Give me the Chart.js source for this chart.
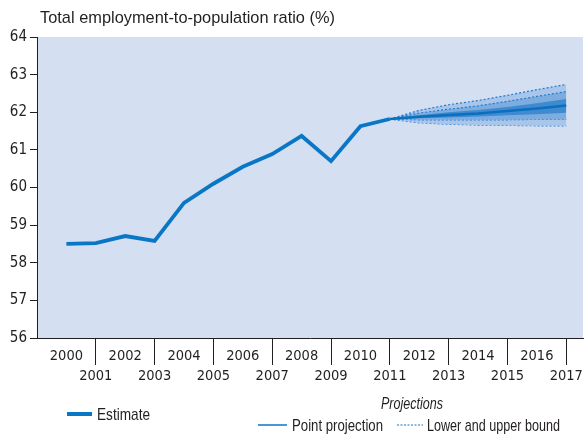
<!DOCTYPE html>
<html>
<head>
<meta charset="utf-8">
<script src="https://cdn.jsdelivr.net/npm/chart.js@4/dist/chart.umd.min.js"></script>
<style>
  html, body { margin: 0; padding: 0; background: #fff; }
  #wrap { width: 586px; height: 436px; position: relative; }
</style>
</head>
<body>
<div id="wrap"><canvas id="chart" width="586" height="436"></canvas></div>
<script>
// values
const years = [2000,2001,2002,2003,2004,2005,2006,2007,2008,2009,2010,2011,2012,2013,2014,2015,2016,2017];
const estYears = [2000,2001,2002,2003,2004,2005,2006,2007,2008,2009,2010,2011];
const estimate = [58.50,58.52,58.71,58.58,59.59,60.10,60.55,60.89,61.37,60.70,61.63,61.82];
const projYears = [2011,2012,2013,2014,2015,2016,2017];
const pointProj  = [61.82,61.88,61.93,61.97,62.03,62.10,62.18];
const darkUpper  = [61.82,61.92,62.00,62.06,62.14,62.24,62.35];
const darkLower  = [61.82,61.84,61.86,61.89,61.92,61.95,61.99];
const innerUpper = [61.82,61.98,62.08,62.17,62.29,62.42,62.55];
const innerLower = [61.82,61.80,61.80,61.80,61.80,61.81,61.81];
const outerUpper = [61.82,62.05,62.20,62.31,62.45,62.60,62.74];
const outerLower = [61.82,61.72,61.68,61.66,61.65,61.64,61.64];
const yTicks = [56,57,58,59,60,61,62,63,64];

const condensed = '"DejaVu Sans Condensed", "Liberation Sans Narrow", sans-serif';
const legendFont = '"Liberation Sans", sans-serif';
const blue = '#0a76c6';

function pts(xs, ys) { return xs.map((x, i) => ({x: x, y: ys[i]})); }

function bound(data) {
  return {
    data: pts(projYears, data),
    borderColor: '#1f7cd0',
    borderWidth: 1.2,
    borderDash: [2, 2],
    pointRadius: 0,
    fill: false
  };
}

const outerUp = bound(outerUpper); outerUp.fill = {target: 7}; outerUp.backgroundColor = '#a9c5ea';
const innerUp = bound(innerUpper); innerUp.fill = {target: 5}; innerUp.backgroundColor = '#7dacdf';

const bgPlugin = {
  id: 'bg',
  beforeDraw(chart) {
    const a = chart.chartArea, ctx = chart.ctx;
    ctx.save();
    ctx.fillStyle = '#d4dff1';
    ctx.fillRect(a.left, a.top, a.right - a.left, a.bottom - a.top);
    ctx.restore();
  },
  afterDraw(chart) {
    const ctx = chart.ctx;
    ctx.save();
    ctx.fillStyle = '#231f20';
    ctx.textBaseline = 'middle';
    ctx.font = '16.4px "Liberation Sans", sans-serif';
    ctx.fillText('Total employment-to-population ratio (%)', 40, 18, 295);

    // legend
    ctx.font = '17px ' + legendFont;
    ctx.strokeStyle = blue;
    ctx.lineWidth = 4;
    ctx.beginPath(); ctx.moveTo(67, 414); ctx.lineTo(92, 414); ctx.stroke();
    ctx.fillText('Estimate', 97, 415, 53);

    ctx.font = 'italic 17px ' + legendFont;
    ctx.fillText('Projections', 381, 404, 62);

    ctx.font = '17px ' + legendFont;
    ctx.lineWidth = 1.5;
    ctx.beginPath(); ctx.moveTo(258, 425); ctx.lineTo(287, 425); ctx.stroke();
    ctx.fillText('Point projection', 292, 426, 91);
    ctx.lineWidth = 1;
    ctx.setLineDash([2, 1.5]);
    ctx.beginPath(); ctx.moveTo(397, 425); ctx.lineTo(423, 425); ctx.stroke();
    ctx.setLineDash([]);
    ctx.fillText('Lower and upper bound', 427, 426, 133);
    ctx.restore();
  }
};

new Chart(document.getElementById('chart'), {
  type: 'line',
  data: {
    datasets: [
      { data: pts(estYears, estimate), borderColor: blue, borderWidth: 3.8, pointRadius: 0, fill: false },
      { data: pts(projYears, pointProj), borderColor: '#0a6fbd', borderWidth: 2.5, pointRadius: 0, fill: false },
      { data: pts(projYears, darkUpper), borderWidth: 0, borderColor: 'rgba(0,0,0,0)', pointRadius: 0,
        fill: {target: 3}, backgroundColor: '#3f8ad0' },
      { data: pts(projYears, darkLower), borderWidth: 0, borderColor: 'rgba(0,0,0,0)', pointRadius: 0, fill: false },
      innerUp,
      bound(innerLower),
      outerUp,
      bound(outerLower)
    ]
  },
  options: {
    responsive: false,
    animation: false,
    layout: { padding: { top: 37, right: 3, left: 0, bottom: 0 } },
    plugins: { legend: { display: false }, tooltip: { enabled: false } },
    scales: {
      x: {
        type: 'linear',
        min: 1999,
        max: 2017.57,
        afterBuildTicks(scale) { scale.ticks = years.map(v => ({value: v})); },
        afterFit(scale) { scale.height = 98; },
        grid: {
          drawOnChartArea: false,
          tickLength: 27,
          color: ctx => (ctx.tick && ctx.tick.value % 2 === 1) ? '#231f20' : 'rgba(0,0,0,0)'
        },
        border: { display: true, color: '#231f20', width: 1 },
        ticks: {
          autoSkip: false,
          maxRotation: 0,
          padding: -19,
          color: '#231f20',
          font: { family: condensed, size: 14.5, lineHeight: 1.4 },
          callback: v => (v % 2 === 0) ? String(v) : ['', String(v)]
        }
      },
      y: {
        min: 56,
        max: 64,
        afterBuildTicks(scale) { scale.ticks = yTicks.map(v => ({value: v})); },
        afterFit(scale) { scale.width = 37; },
        grid: { drawOnChartArea: false, tickLength: 7, color: '#231f20' },
        border: { display: true, color: '#231f20', width: 1 },
        ticks: {
          padding: 3,
          color: '#231f20',
          font: { family: condensed, size: 15 }
        }
      }
    }
  },
  plugins: [bgPlugin]
});
</script>
</body>
</html>
